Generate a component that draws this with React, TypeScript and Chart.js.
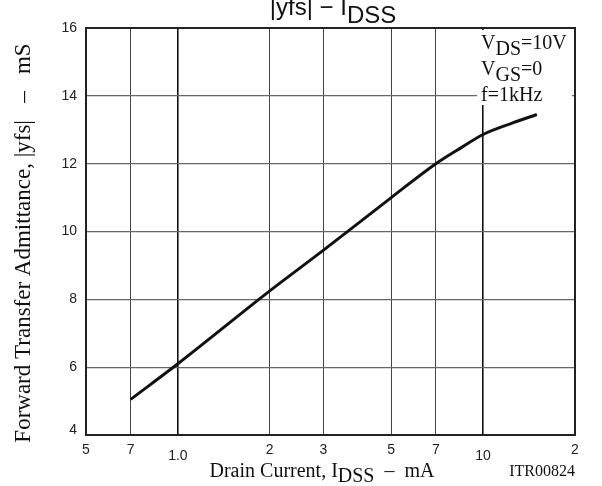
import React, { useEffect, useRef } from 'react';
import { Chart, registerables } from 'chart.js';

Chart.register(...registerables);

// ---- data ----
const currentMA = [0.7, 1.0, 2, 3, 5, 7, 8.5, 10, 12.5, 15];
const admittanceMS = [5.05, 6.1, 8.25, 9.45, 11.0, 12.0, 12.48, 12.86, 13.2, 13.45];

const xTickValues = [0.5, 0.7, 1, 2, 3, 5, 7, 10, 20];
const xTickLabels = ['5', '7', '1.0', '2', '3', '5', '7', '10', '2'];
const xTickLowered = [false, false, true, false, false, false, false, true, false];
const majorXTicks = [1, 10];

const yTickValues = [4, 6, 8, 10, 12, 14, 16];
const yTickLabels = ['4', '6', '8', '10', '12', '14', '16'];

const conditionLines: [string, string, string][] = [
  ['V', 'DS', '=10V'],
  ['V', 'GS', '=0'],
  ['f=1kHz', '', ''],
];

const SANS = '"Liberation Sans", Arial, Helvetica, sans-serif';
const SERIF = '"Liberation Serif", "Times New Roman", Times, serif';

type Part = { t: string; dy: number };

function drawParts(ctx: CanvasRenderingContext2D, x: number, y: number, parts: Part[], align: 'left' | 'center' | 'right') {
  const widths = parts.map((p) => ctx.measureText(p.t).width);
  const total = widths.reduce((a, b) => a + b, 0);
  let cx = align === 'left' ? x : align === 'center' ? x - total / 2 : x - total;
  ctx.textAlign = 'left';
  parts.forEach((p, i) => {
    ctx.fillText(p.t, cx, y + p.dy);
    cx += widths[i];
  });
}

const decorPlugin = {
  id: 'decor',
  afterDraw(chart: any) {
    const ctx: CanvasRenderingContext2D = chart.ctx;
    const { left, right, top, bottom } = chart.chartArea;
    const xs = chart.scales.x;
    const ys = chart.scales.y;
    ctx.save();

    // frame
    ctx.strokeStyle = '#222';
    ctx.lineWidth = 2;
    ctx.strokeRect(left, top, right - left, bottom - top);

    // condition box
    ctx.fillStyle = '#fff';
    ctx.fillRect(right - 98, top + 2, 95, 75);
    ctx.fillStyle = '#111';
    ctx.font = `20px ${SERIF}`;
    ctx.textBaseline = 'alphabetic';
    conditionLines.forEach((ln, i) => {
      const y = top + 21 + i * 26;
      drawParts(ctx, right - 94, y, [
        { t: ln[0], dy: 0 },
        { t: ln[1], dy: 6 },
        { t: ln[2], dy: 0 },
      ], 'left');
    });

    // x tick labels
    ctx.fillStyle = '#222';
    ctx.font = `14px ${SANS}`;
    ctx.textAlign = 'center';
    ctx.textBaseline = 'top';
    xTickValues.forEach((v, i) => {
      const px = xs.getPixelForValue(v);
      ctx.fillText(xTickLabels[i], px, bottom + (xTickLowered[i] ? 14 : 8));
    });

    // y tick labels
    ctx.textAlign = 'right';
    ctx.textBaseline = 'middle';
    yTickValues.forEach((v, i) => {
      const py = ys.getPixelForValue(v);
      ctx.fillText(yTickLabels[i], left - 9, i === 0 ? py - 5 : py);
    });

    // chart title
    ctx.fillStyle = '#111';
    ctx.font = `24px ${SANS}`;
    ctx.textBaseline = 'alphabetic';
    drawParts(ctx, 333, 15, [
      { t: '|yfs| \u2212 I', dy: 0 },
      { t: 'DSS', dy: 8 },
    ], 'center');

    // x axis title
    ctx.font = `20px ${SERIF}`;
    drawParts(ctx, 322, 477, [
      { t: 'Drain Current, I', dy: 0 },
      { t: 'DSS', dy: 5 },
      { t: '  \u2013  mA', dy: 0 },
    ], 'center');

    // figure id
    ctx.font = `16px ${SERIF}`;
    drawParts(ctx, 575, 476, [{ t: 'ITR00824', dy: 0 }], 'right');

    // y axis title
    ctx.translate(30, 243);
    ctx.rotate(-Math.PI / 2);
    ctx.font = `23px ${SERIF}`;
    drawParts(ctx, 0, 0, [{ t: 'Forward Transfer Admittance, |yfs|   \u2013   mS', dy: 0 }], 'center');

    ctx.restore();
  },
};

export default function App() {
  const ref = useRef<HTMLCanvasElement>(null);

  useEffect(() => {
    if (!ref.current) return;
    const chart = new Chart(ref.current, {
      type: 'line',
      data: {
        datasets: [
          {
            data: currentMA.map((x, i) => ({ x, y: admittanceMS[i] })),
            borderColor: '#111',
            borderWidth: 3,
            pointRadius: 0,
            cubicInterpolationMode: 'monotone',
            fill: false,
          },
        ],
      },
      options: {
        animation: false,
        responsive: false,
        layout: { padding: { left: 0, right: 27, top: 28, bottom: 0 } },
        plugins: { legend: { display: false }, tooltip: { enabled: false }, title: { display: false } },
        scales: {
          x: {
            type: 'logarithmic',
            min: 0.5,
            max: 20,
            afterBuildTicks: (scale: any) => {
              scale.ticks = xTickValues.map((v) => ({ value: v, major: majorXTicks.includes(v) }));
            },
            afterFit: (scale: any) => {
              scale.height = 51;
            },
            ticks: { display: false },
            grid: {
              drawTicks: false,
              color: (c: any) => (c.tick && majorXTicks.includes(c.tick.value) ? '#111' : '#444'),
              lineWidth: (c: any) => (c.tick && majorXTicks.includes(c.tick.value) ? 1.6 : 1),
            },
            border: { display: true, color: '#222', width: 2 },
          },
          y: {
            type: 'linear',
            min: 4,
            max: 16,
            afterBuildTicks: (scale: any) => {
              scale.ticks = yTickValues.map((v) => ({ value: v }));
            },
            afterFit: (scale: any) => {
              scale.width = 86;
            },
            ticks: { display: false },
            grid: { drawTicks: false, color: '#666', lineWidth: 1.2 },
            border: { display: true, color: '#222', width: 2 },
          },
        },
      },
      plugins: [decorPlugin],
    } as any);
    return () => chart.destroy();
  }, []);

  return (
    <div style={{ position: 'absolute', left: 0, top: 0, width: 602, height: 486, background: '#fff' }}>
      <canvas ref={ref} width={602} height={486} style={{ display: 'block', width: 602, height: 486 }} />
    </div>
  );
}
